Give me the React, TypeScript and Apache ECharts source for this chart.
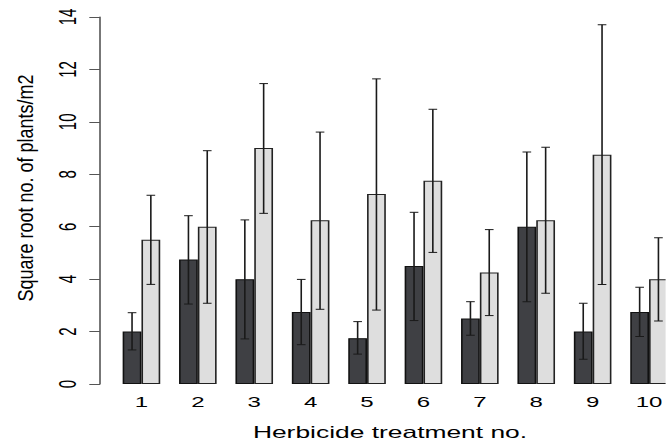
import React, { useEffect, useRef } from "react";
import * as echarts from "echarts";

const categories = ["1", "2", "3", "4", "5", "6", "7", "8", "9", "10"];
const darkMean = [2.0, 4.75, 4.0, 2.75, 1.75, 4.5, 2.5, 6.0, 2.0, 2.75];
const darkLow = [1.3, 3.05, 1.72, 1.5, 1.14, 2.42, 1.86, 3.14, 0.94, 1.81];
const darkHigh = [2.72, 6.42, 6.26, 3.99, 2.38, 6.55, 3.14, 8.85, 3.08, 3.69];
const lightMean = [5.5, 6.0, 9.0, 6.25, 7.25, 7.75, 4.25, 6.25, 8.75, 4.0];
const lightLow = [3.8, 3.08, 6.51, 2.85, 2.82, 5.02, 2.61, 3.46, 3.8, 2.4];
const lightHigh = [7.2, 8.9, 11.46, 9.61, 11.64, 10.48, 5.89, 9.03, 13.7, 5.58];
const yTicks = [0, 14, 2]; // min, max, interval

const SX = 1.6;
const W = 666 / SX;
const FONT = "'Liberation Sans', Arial, Helvetica, sans-serif";

function errorSeries(low: number[], high: number[], sign: number) {
  return {
    type: "custom",
    z: 5,
    clip: false,
    data: low.map((lo, i) => [i, lo, high[i]]),
    encode: { x: 0, y: [1, 2] },
    renderItem: (params: any, api: any) => {
      const idx = api.value(0);
      const bw = api.size([1, 0])[0] / 3;
      const base = api.coord([idx, 0]);
      const cx = base[0] + (sign * bw) / 2;
      const yLo = api.coord([idx, api.value(1)])[1];
      const yHi = api.coord([idx, api.value(2)])[1];
      const cap = bw * 0.23;
      const st = { stroke: "#1a1a1a", lineWidth: 1 };
      return {
        type: "group",
        children: [
          { type: "line", shape: { x1: cx, y1: yLo, x2: cx, y2: yHi }, style: st },
          { type: "line", shape: { x1: cx - cap, y1: yHi, x2: cx + cap, y2: yHi }, style: st },
          { type: "line", shape: { x1: cx - cap, y1: yLo, x2: cx + cap, y2: yLo }, style: st },
        ],
      };
    },
  };
}

export default function App() {
  const ref = useRef<HTMLDivElement>(null);
  useEffect(() => {
    if (!ref.current) return;
    const chart = echarts.init(ref.current, null, { renderer: "svg" });
    const gridLeft = 113.24 / SX;
    const gridWidth = 564 / SX;
    chart.setOption({
      animation: false,
      backgroundColor: "#ffffff",
      grid: { left: gridLeft, width: gridWidth, top: 17, bottom: 61, outerBoundsMode: "none", containLabel: false },
      xAxis: {
        type: "category",
        data: categories,
        axisLine: { show: false },
        axisTick: { show: false },
        axisLabel: { fontSize: 15, color: "#000", fontFamily: FONT, margin: 10, interval: 0 },
      },
      yAxis: {
        type: "value",
        min: yTicks[0],
        max: yTicks[1],
        interval: yTicks[2],
        offset: gridLeft - 100 / SX,
        axisLine: { show: true, lineStyle: { color: "#555", width: 1 } },
        axisTick: { show: true, length: 10.7 / SX, lineStyle: { color: "#555" } },
        axisLabel: { rotate: 90, fontSize: 15, color: "#000", fontFamily: FONT, margin: 13 },
        splitLine: { show: false },
      },
      series: [
        {
          type: "bar",
          data: darkMean,
          barWidth: 18.8 / SX,
          barGap: "0%",
          itemStyle: { color: "#3f4044", borderColor: "#111", borderWidth: 1 },
        },
        {
          type: "bar",
          data: lightMean,
          barWidth: 18.8 / SX,
          barGap: "0%",
          itemStyle: { color: "#dedede", borderColor: "#222", borderWidth: 1 },
        },
        errorSeries(darkLow, darkHigh, -1),
        errorSeries(lightLow, lightHigh, 1),
      ],
      graphic: [
        {
          type: "text",
          x: 390 / SX,
          y: 432.5,
          style: {
            text: "Herbicide treatment no.",
            fontSize: 16.5,
            fontFamily: FONT,
            fill: "#000",
            textAlign: "center",
            textVerticalAlign: "middle",
          },
        },
        {
          type: "text",
          x: 25 / SX,
          y: 188,
          rotation: Math.PI / 2,
          scaleY: 0.75,
          style: {
            text: "Square root no. of plants/m2",
            fontSize: 18,
            fontFamily: FONT,
            fill: "#000",
            textAlign: "center",
            textVerticalAlign: "middle",
          },
        },
      ],
    });
    return () => chart.dispose();
  }, []);
  return (
    <div
      ref={ref}
      style={{
        position: "fixed",
        left: 0,
        top: 0,
        width: W + "px",
        height: "445px",
        transform: `scaleX(${SX})`,
        transformOrigin: "0 0",
      }}
    />
  );
}
